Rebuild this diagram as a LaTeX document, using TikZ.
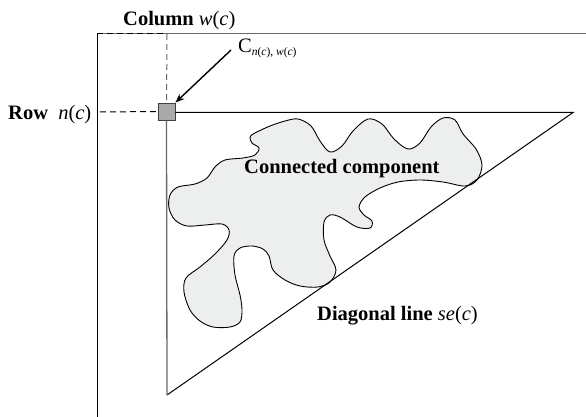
\documentclass[tikz,border=0pt]{standalone}
\usepackage{fontspec}
\setmainfont{Liberation Serif}
\usetikzlibrary{arrows.meta}
\definecolor{blobfill}{RGB}{237,238,238}
\definecolor{sqfill}{RGB}{170,170,170}
\definecolor{edgegray}{RGB}{105,105,105}
\tikzset{
  lbl/.style={inner sep=0pt,font=\fontsize{20.5}{24}\selectfont},
  frameline/.style={line width=1pt},
  dashline/.style={line width=1pt,dash pattern=on 6pt off 4pt},
  sqbox/.style={draw=black!75,fill=sqfill,minimum size=17pt,inner sep=0pt,line width=0.9pt},
}
\begin{document}
\begin{tikzpicture}[x=1pt,y=-1pt]
\useasboundingbox (0,0) rectangle (586,417);
% frame
\coordinate (ftl) at (97,34);
\coordinate (ftr) at (586,34);
\coordinate (fbl) at (97,417);
\coordinate (colTop) at (167,34);
\coordinate (rowL) at (100,112);
\draw[frameline,edgegray] (ftl) -- (ftr);
\draw[frameline] (ftl) -- (fbl);
\draw[dashline,black] (ftl) -- (colTop);
% blob
\filldraw[fill=blobfill,draw=black,line width=0.9pt] plot[smooth cycle,tension=0.55] coordinates {
(255,133) (270,126) (285,121) (298,119) (311,126) (320,141) (330,152) (342,146)
(353,131) (368,119) (382,124) (394,139) (408,149) (420,143) (431,127) (443,118)
(455,120) (463,134) (476,149) (482,165) (477,180) (465,186) (443,182) (420,180)
(398,182) (380,188) (365,197) (359,207) (364,215) (372,221) (370,228) (357,227)
(340,217) (330,215) (324,222) (324,240) (330,256) (336,270) (330,282) (318,287)
(300,286) (285,280) (273,270) (269,256) (263,249) (252,246) (240,248) (234,256)
(235,275) (240,295) (242,310) (240,322) (230,327) (213,327) (200,321) (190,310)
(184,292) (186,278) (200,267) (215,254) (227,240) (229,230) (222,224) (205,225)
(187,226) (175,220) (169,208) (170,195) (178,187) (195,184) (207,178) (215,167)
(225,160) (243,158) (255,155) (259,148) (252,143) (250,137)
};
% square and triangle
\node[sqbox] (sq) at (166.5,111.5) {};
\coordinate (tr) at (573,112.5);
\coordinate (bl) at (167,395);
\draw[dashline,edgegray] (colTop) -- (sq.north);
\draw[dashline,black] (rowL) -- (sq.west);
\draw[frameline] (sq.east |- tr) -- (tr) -- (bl);
\draw[line width=1.3pt,edgegray] (sq.south) -- (bl);
% arrow
\coordinate (arrS) at (231,50);
\draw[line width=1.4pt,-{Stealth[length=9pt,width=7pt]}] (arrS) -- (sq.north east);
% labels
\node[lbl,anchor=base west] (col) at (123,26) {\textbf{Column} \textit{w}(\textit{c})};
\node[lbl,anchor=base west] (row) at (8,120) {\textbf{Row}\ \ \textit{n}(\textit{c})};
\node[lbl,anchor=base west] (cell) at (238,53) {C\raisebox{-3pt}{\fontsize{11.5}{13}\selectfont\textit{n}(\textit{c}), \textit{w}(\textit{c})}};
\node[lbl,anchor=base west] (cc) at (244,173) {\textbf{Connected component}};
\node[lbl,anchor=base west] (diag) at (317,320) {\textbf{Diagonal line} \textit{se}(\textit{c})};
\end{tikzpicture}
\end{document}
